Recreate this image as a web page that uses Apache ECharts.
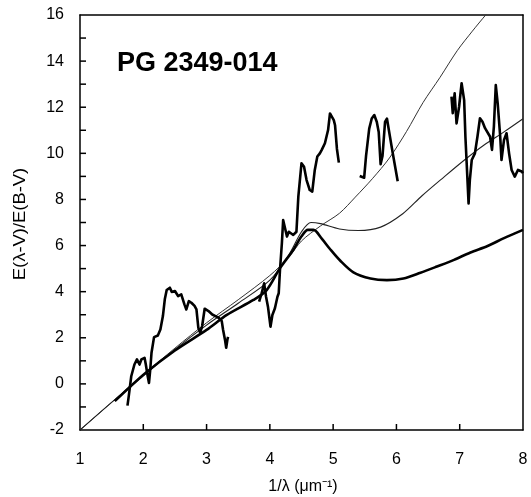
<!DOCTYPE html>
<html><head><meta charset="utf-8">
<script src="https://cdn.jsdelivr.net/npm/echarts@6/dist/echarts.min.js"></script>
<style>html,body{margin:0;padding:0;background:#fff}#c{width:531px;height:497px}</style>
</head><body><div id="c"></div>
<script>
// tick values
const xTicks = [1,2,3,4,5,6,7,8];
const yTicks = [-2,-1,0,1,2,3,4,5,6,7,8,9,10,11,12,13,14,15,16];
const yRange = [-2, 16];
// model curves [1/lambda, E(l-V)/E(B-V)]
const steepCurve = [[1,-2],[1.5,-0.8],[2,0.4],[2.5,1.55],[3,2.65],[3.5,3.65],[4,4.7],[4.3,5.5],[4.5,6.2],[4.8,6.85],[5.1,7.4],[5.35,8.1],[5.62,8.9],[5.89,9.8],[6.16,10.95],[6.42,12.2],[6.69,13.3],[6.96,14.45],[7.2,15.3],[7.41,16],[7.6,16.6]];
const bumpCurve = [[1,-2],[1.5,-0.8],[2,0.35],[2.5,1.5],[3,2.55],[3.5,3.5],[4,4.5],[4.3,5.6],[4.5,6.6],[4.65,7.0],[4.8,6.95],[5.1,6.72],[5.4,6.65],[5.75,6.8],[6.1,7.38],[6.4,8.15],[6.75,8.97],[7.07,9.7],[7.38,10.35],[7.7,10.93],[8,11.5]];
const thickCurve = [[1.55,-0.75],[2.03,0.46],[2.5,1.45],[3,2.34],[3.32,2.99],[3.74,3.64],[3.95,4.07],[4.16,5.02],[4.37,5.81],[4.5,6.4],[4.6,6.68],[4.69,6.68],[4.82,6.3],[4.95,5.85],[5.11,5.35],[5.32,4.84],[5.59,4.57],[5.85,4.5],[6.11,4.57],[6.38,4.82],[6.64,5.09],[6.91,5.38],[7.17,5.7],[7.44,5.98],[7.7,6.32],[8,6.68]];
// observed data segments
const obs1 = [[1.75,-0.94],[1.77,-0.54],[1.81,0.33],[1.86,0.84],[1.9,1.06],[1.94,0.84],[1.97,1.06],[2.02,1.13],[2.04,0.84],[2.07,0.33],[2.09,0.04],[2.11,0.62],[2.13,1.35],[2.17,2.03],[2.23,2.1],[2.27,2.36],[2.31,2.94],[2.34,3.67],[2.37,4.07],[2.42,4.17],[2.45,3.99],[2.5,4.03],[2.55,3.81],[2.6,3.88],[2.65,3.45],[2.68,3.23],[2.72,3.59],[2.76,3.52],[2.81,3.38],[2.84,3.23],[2.87,2.43],[2.9,2.22],[2.93,2.51],[2.97,3.26],[3.03,3.16],[3.09,3.01],[3.14,2.94],[3.19,2.87],[3.24,2.72],[3.26,2.36],[3.29,1.93],[3.31,1.57],[3.33,1.93],[3.34,2.04]];
const obs2 = [[3.83,3.57],[3.87,3.93],[3.91,4.36],[3.94,3.78],[3.97,3.35],[4.01,2.48],[4.04,2.99],[4.08,3.28],[4.12,3.78],[4.14,3.93],[4.16,4.94],[4.19,6.1],[4.21,7.11],[4.24,7.18],[4.27,6.39],[4.3,6.6],[4.32,6.68],[4.37,6.46],[4.42,6.6],[4.45,8.12],[4.5,9.57],[4.54,9.42],[4.58,8.84],[4.63,8.41],[4.67,8.34],[4.71,9.28],[4.75,9.86],[4.79,10.0],[4.82,10.15],[4.87,10.44],[4.92,11.01],[4.95,11.73],[5.01,11.44],[5.03,11.22],[5.06,10.19],[5.09,9.6]];
const obs3 = [[5.42,9.02],[5.49,8.94],[5.52,9.89],[5.57,11.07],[5.61,11.51],[5.65,11.66],[5.69,11.36],[5.72,10.93],[5.75,9.53],[5.78,9.89],[5.82,11.36],[5.85,11.51],[5.89,10.85],[5.94,10.04],[6.02,8.79]];
const obs4 = [[6.87,12.46],[6.89,11.74],[6.92,12.6],[6.95,11.3],[6.99,12.02],[7.03,13.04],[7.07,12.31],[7.09,10.72],[7.11,9.57],[7.14,7.83],[7.16,8.84],[7.19,9.71],[7.24,10.0],[7.28,10.72],[7.32,11.52],[7.36,11.37],[7.4,11.09],[7.43,11.16],[7.48,10.72],[7.51,10.15],[7.54,11.16],[7.57,12.96],[7.6,12.17],[7.64,10.72],[7.66,9.71],[7.7,10.58],[7.74,10.87],[7.78,10.0],[7.82,9.28],[7.87,8.99],[7.92,9.28],[7.98,9.21],[8.0,9.14]];
const titleText = 'PG 2349-014';
const xTitle = '1/λ (μm⁻¹)';
const yTitle = 'E(λ-V)/E(B-V)';

const chart = echarts.init(document.getElementById('c'));
const FONT = 'Liberation Sans, Arial, sans-serif';
function line(data, w, color) {
  return {type:'line', data:data, symbol:'none', smooth:0.3, clip:true,
          lineStyle:{width:w, color:color}};
}
function obs(data) {
  return {type:'line', data:data, symbol:'none', clip:true,
          lineStyle:{width:2.6, color:'#000', join:'round'}};
}
chart.setOption({
  animation:false,
  textStyle:{fontFamily:FONT},
  grid:{left:80, right:8, top:15, bottom:67},
  xAxis:[{type:'value', min:xTicks[0], max:xTicks[xTicks.length-1], interval:1,
    axisLine:{show:true, onZero:false, lineStyle:{color:'#000', width:1.5}},
    axisTick:{show:false},
    axisLabel:{fontSize:16, color:'#000', margin:22},
    splitLine:{show:false}},
    {type:'value', position:'top', min:xTicks[0], max:xTicks[xTicks.length-1], interval:1,
    axisLine:{show:true, onZero:false, lineStyle:{color:'#000', width:1.5}},
    axisTick:{show:false}, axisLabel:{show:false}, splitLine:{show:false}}],
  yAxis:[{type:'value', min:yRange[0], max:yRange[1], interval:1,
    axisLine:{show:true, onZero:false, lineStyle:{color:'#000', width:1.5}},
    axisTick:{show:false},
    axisLabel:{fontSize:16, color:'#000', margin:16,
      formatter:function(v){return (v % 2 === 0) ? String(v) : '';}},
    splitLine:{show:false}},
    {type:'value', position:'right', min:yRange[0], max:yRange[1], interval:1,
    axisLine:{show:true, onZero:false, lineStyle:{color:'#000', width:1.5}},
    axisTick:{show:false}, axisLabel:{show:false}, splitLine:{show:false}}],
  series:[
    line(steepCurve, 1, '#333'),
    line(bumpCurve, 1.1, '#222'),
    line(thickCurve, 2.6, '#000'),
    obs(obs1), obs(obs2), obs(obs3), obs(obs4)
  ]
});

// texts
const graphics = [
  {type:'text', left:117, top:50, style:{text:titleText, font:'bold 27px '+FONT, fill:'#000'}},
  {type:'text', x:303, y:487, style:{text:xTitle, font:'16px '+FONT, fill:'#000', align:'center', verticalAlign:'middle'}},
  {type:'text', x:21, y:224, rotation:Math.PI/2, scaleX:1.15, style:{text:yTitle, font:'16px '+FONT, fill:'#000', align:'center', verticalAlign:'middle'}}
];
// inward tick marks placed through the chart's own scales
const TICK = 6;
const finder = {xAxisIndex:0, yAxisIndex:0};
xTicks.slice(1, -1).forEach(function(v){
  const p = chart.convertToPixel(finder, [v, yRange[0]]);
  graphics.push({type:'line', z:50, shape:{x1:p[0], y1:p[1], x2:p[0], y2:p[1]-TICK},
    style:{stroke:'#000', lineWidth:1.5}});
});
yTicks.slice(1, -1).forEach(function(v){
  const p = chart.convertToPixel(finder, [xTicks[0], v]);
  graphics.push({type:'line', z:50, shape:{x1:p[0], y1:p[1], x2:p[0]+TICK, y2:p[1]},
    style:{stroke:'#000', lineWidth:1.5}});
});
chart.setOption({graphic: graphics});
</script></body></html>
